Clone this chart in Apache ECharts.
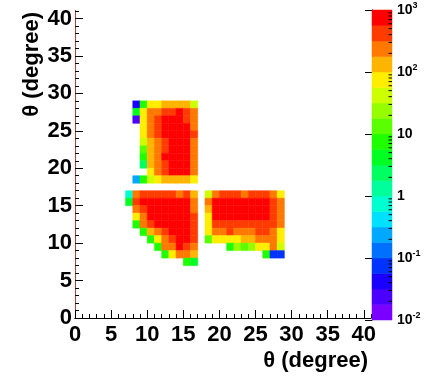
<!DOCTYPE html>
<html><head><meta charset="utf-8">
<script src="https://cdn.jsdelivr.net/npm/echarts@6/dist/echarts.min.js"></script>
<style>html,body{margin:0;padding:0;background:#fff}#c{width:437px;height:383px}</style>
</head><body><div id="c"></div>
<script>
// ---- axis / scale settings ----
const axisMin = 0;
const axisMax = 41;
const majorStep = 5;
const colorLogMin = -2;
const colorLogMax = 3;
const bandsPerDecade = 4;
// ROOT-like palette, lowest band first
const paletteColors = ['#7a00ff','#4b00ff','#1a00ff','#0033ff','#0070ff','#00a8ff','#00e0ff','#00ffd0',
  '#00ff9a','#00ff60','#00ff22','#1eff00','#5aff00','#95ff00','#ceff00','#ffee00','#ffb400','#ff7800','#ff3c00','#ff0000'];

// ---- data: counts per 1x1 degree bin (null = empty) ----
// upper block: x = 8..16, rows from y = 28 down to y = 18
const upperX0 = 8, upperYTop = 28;
const upperBlock = [
  [0.05, 7.5, 75, 75, 130, 130, 130, 130, 42],
  [4.2, 75, 230, 230, 420, 420, 800, 420, 230],
  [0.02, 75, 230, 420, 800, 800, 800, 420, 230],
  [null, 75, 230, 420, 800, 800, 800, 800, 230],
  [null, 75, 230, 420, 800, 800, 800, 800, 420],
  [null, 42, 130, 230, 420, 800, 800, 800, 230],
  [null, 13, 130, 230, 420, 800, 800, 800, 230],
  [null, 7.5, 130, 230, 800, 800, 800, 800, 230],
  [null, 2.4, 130, 230, 420, 800, 800, 800, 230],
  [null, null, 75, 230, 420, 800, 800, 800, 230],
  [0.24, 7.5, 42, 75, 130, 130, 130, 130, 75]
];
// lower-left block: x = 7..16, rows from y = 16 down to y = 7
const lowerLeftX0 = 7, lowerLeftYTop = 16;
const lowerLeftBlock = [
  [0.75, 230, 420, 420, 420, 420, 420, 230, 420, 130],
  [4.2, 420, 800, 800, 800, 800, 800, 800, 800, 230],
  [null, 230, 420, 800, 800, 800, 800, 800, 800, 230],
  [null, 75, 230, 800, 800, 800, 800, 800, 800, 420],
  [null, 7.5, 230, 420, 800, 800, 800, 800, 800, 420],
  [null, null, 7.5, 130, 230, 420, 800, 800, 800, 420],
  [null, null, null, 7.5, 75, 230, 420, 800, 800, 420],
  [null, null, null, null, 7.5, 230, 230, 800, 420, 230],
  [null, null, null, null, null, 7.5, 75, 230, 230, 130],
  [null, null, null, null, null, null, null, null, 7.5, 4.2]
];
// lower-right block: x = 18..28, rows from y = 16 down to y = 8
const lowerRightX0 = 18, lowerRightYTop = 16;
const lowerRightBlock = [
  [42, 230, 420, 420, 420, 230, 420, 420, 420, 230, 75],
  [230, 800, 800, 800, 800, 800, 800, 800, 800, 420, 230],
  [130, 800, 800, 800, 800, 800, 800, 800, 800, 420, 230],
  [75, 800, 800, 800, 800, 800, 800, 800, 800, 420, 230],
  [75, 420, 420, 420, 420, 420, 420, 420, 420, 420, 230],
  [75, 230, 230, 420, 230, 230, 230, 420, 420, 230, 75],
  [13, 75, 75, 75, 75, 130, 130, 230, 230, 230, 75],
  [null, null, null, 7.5, 24, 13, 24, 75, 75, 230, 42],
  [null, null, null, null, null, null, null, null, 7.5, 0.07, 0.07]
];
const colorbarLabels = ['10{s|-2}', '10{s|-1}', '1', '10', '10{s|2}', '10{s|3}'];
const minorMultipliers = [2, 3, 4, 5, 6, 7, 8, 9];

// ---- build ----
function blockCells(block, x0, yTop) {
  const out = [];
  block.forEach((row, r) => row.forEach((v, c) => {
    if (v !== null) out.push([x0 + c, yTop - r, v]);
  }));
  return out;
}
const cells = [].concat(
  blockCells(upperBlock, upperX0, upperYTop),
  blockCells(lowerLeftBlock, lowerLeftX0, lowerLeftYTop),
  blockCells(lowerRightBlock, lowerRightX0, lowerRightYTop)
);
function colorFor(v) {
  let b = Math.floor((Math.log10(v) - colorLogMin) * bandsPerDecade);
  b = Math.max(0, Math.min(paletteColors.length - 1, b));
  return paletteColors[b];
}
const bandData = paletteColors.map((c, i) => [i]);
const minorTickData = [];
for (let d = colorLogMin; d < colorLogMax; d++) {
  minorMultipliers.forEach(m => minorTickData.push([d + Math.log10(m)]));
}

const FONT = '"Liberation Sans", Arial, Helvetica, sans-serif';
const labelStyle = { fontFamily: FONT, fontWeight: 'bold', fontSize: 22, color: '#000' };

const chart = echarts.init(document.getElementById('c'), null, { renderer: 'canvas' });
chart.setOption({
  animation: false,
  backgroundColor: '#fff',
  grid: [
    { left: 75, right: 66, top: 11, bottom: 65 },
    { left: 372, right: 45, top: 10, bottom: 63 }
  ],
  xAxis: [
    { gridIndex: 0, type: 'value', min: axisMin, max: axisMax, interval: majorStep, position: 'bottom',
      axisLine: { show: true, lineStyle: { color: '#000', width: 1 } },
      axisTick: { show: true, inside: true, length: 8, lineStyle: { color: '#000' } },
      axisLabel: Object.assign({ margin: 6, showMaxLabel: false, showMinLabel: true }, labelStyle),
      splitLine: { show: false } },
    { gridIndex: 0, type: 'value', min: axisMin, max: axisMax, interval: 1, position: 'bottom',
      axisLine: { show: false },
      axisTick: { show: true, inside: true, length: 4, lineStyle: { color: '#000' } },
      axisLabel: { show: false }, splitLine: { show: false } },
    { gridIndex: 0, type: 'value', min: axisMin, max: axisMax, position: 'top',
      axisLine: { show: true, lineStyle: { color: '#000', width: 1 } },
      axisTick: { show: false }, axisLabel: { show: false }, splitLine: { show: false } },
    { gridIndex: 1, type: 'value', min: 0, max: 1, show: false }
  ],
  yAxis: [
    { gridIndex: 0, type: 'value', min: axisMin, max: axisMax, interval: majorStep, position: 'left',
      axisLine: { show: true, lineStyle: { color: '#000', width: 1 } },
      axisTick: { show: true, inside: true, length: 8, lineStyle: { color: '#000' } },
      axisLabel: Object.assign({ margin: 3, showMaxLabel: false, showMinLabel: true }, labelStyle),
      splitLine: { show: false } },
    { gridIndex: 0, type: 'value', min: axisMin, max: axisMax, interval: 1, position: 'left',
      axisLine: { show: false },
      axisTick: { show: true, inside: true, length: 4, lineStyle: { color: '#000' } },
      axisLabel: { show: false }, splitLine: { show: false } },
    { gridIndex: 0, type: 'value', min: axisMin, max: axisMax, position: 'right',
      axisLine: { show: true, lineStyle: { color: '#b04040', width: 1 } },
      axisTick: { show: false }, axisLabel: { show: false }, splitLine: { show: false } },
    { gridIndex: 1, type: 'value', min: colorLogMin, max: colorLogMax, interval: 1, position: 'right',
      axisLine: { show: true, lineStyle: { color: '#000', width: 1 } },
      axisTick: { show: true, inside: true, length: 7, lineStyle: { color: '#000' } },
      axisLabel: {
        margin: 5, color: '#000', fontFamily: FONT, fontWeight: 'bold', fontSize: 14,
        formatter: v => colorbarLabels[v - colorLogMin],
        rich: { s: { fontFamily: FONT, fontWeight: 'bold', fontSize: 9, verticalAlign: 'top', padding: [0, 0, 8, 0], color: '#000' } }
      },
      splitLine: { show: false } }
  ],
  graphic: [
    { type: 'text', x: 368, y: 361, style: { text: 'θ (degree)', font: 'bold 22px ' + FONT, fill: '#000', align: 'right', verticalAlign: 'middle' } },
    { type: 'text', x: 32, y: 12, rotation: Math.PI / 2, style: { text: 'θ (degree)', font: 'bold 22px ' + FONT, fill: '#000', align: 'right', verticalAlign: 'middle' } }
  ],
  series: [
    { type: 'custom', xAxisIndex: 0, yAxisIndex: 0, data: cells, clip: true,
      renderItem: (params, api) => {
        const x = api.value(0), y = api.value(1), v = api.value(2);
        const p0 = api.coord([x, y + 1]);
        const p1 = api.coord([x + 1, y]);
        const col = colorFor(v);
        return { type: 'rect', shape: { x: p0[0], y: p0[1], width: p1[0] - p0[0], height: p1[1] - p0[1] },
          style: { fill: col, stroke: col, lineWidth: 0.5 } };
      } },
    { type: 'custom', xAxisIndex: 3, yAxisIndex: 3, data: bandData,
      renderItem: (params, api) => {
        const i = api.value(0);
        const lo = colorLogMin + i / bandsPerDecade, hi = colorLogMin + (i + 1) / bandsPerDecade;
        const p0 = api.coord([0, hi]);
        const p1 = api.coord([1, lo]);
        const col = paletteColors[i];
        return { type: 'rect', shape: { x: p0[0], y: p0[1], width: p1[0] - p0[0], height: p1[1] - p0[1] },
          style: { fill: col, stroke: col, lineWidth: 0.5 } };
      } },
    { type: 'custom', xAxisIndex: 3, yAxisIndex: 3, data: minorTickData, z: 5,
      renderItem: (params, api) => {
        const p = api.coord([1, api.value(0)]);
        return { type: 'line', shape: { x1: p[0], y1: p[1], x2: p[0] - 3.5, y2: p[1] },
          style: { stroke: '#000', lineWidth: 1 } };
      } }
  ]
});
</script>
</body></html>
